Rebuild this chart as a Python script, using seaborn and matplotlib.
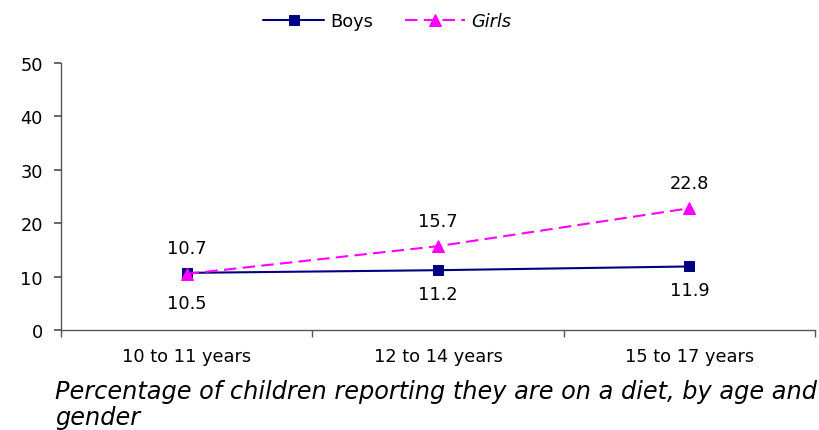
import matplotlib
matplotlib.use("Agg")
import matplotlib.pyplot as plt
import seaborn as sns
import pandas as pd

categories = ["10 to 11 years", "12 to 14 years", "15 to 17 years"]
boys = [10.7, 11.2, 11.9]
girls = [10.5, 15.7, 22.8]
yticks = [0, 10, 20, 30, 40, 50]
caption = "Percentage of children reporting they are on a diet, by age and\ngender"

sns.set_theme(style="white")
plt.rcParams['font.family'] = ['DejaVu Sans']
plt.rcParams['text.color'] = 'black'

df = pd.DataFrame({
    "pos": list(range(3)) * 2,
    "value": boys + girls,
    "series": ["Boys"] * 3 + ["Girls"] * 3,
})

fig = plt.figure(figsize=(8.2, 4.31), dpi=100)
ax = fig.add_axes([0.0744, 0.232, 0.9196, 0.6195])

sns.lineplot(data=df[df.series == "Boys"], x="pos", y="value", ax=ax, color="#000080",
             marker="s", markersize=7.5, linewidth=1.5, label="Boys", markeredgecolor="#000080")
sns.lineplot(data=df[df.series == "Girls"], x="pos", y="value", ax=ax, color="#FF00FF",
             marker="^", markersize=8, linewidth=1.5, label="Girls",
             markeredgecolor="#FF00FF")
ax.lines[-1].set_linestyle((0, (6, 3)))

ax.set_xlim(-0.5, 2.5)
ax.set_ylim(0, 50)
ax.set_yticks(yticks)
ax.set_xticks(range(3))
ax.set_xticklabels(categories)
ax.set_xticks([-0.5, 0.5, 1.5, 2.5], minor=True)
fs = 12.8
ax.tick_params(axis="x", which="major", length=0, pad=12, labelsize=fs, labelcolor="black")
ax.tick_params(axis="x", which="minor", length=5, direction="out", color="#555555", bottom=True)
ax.tick_params(axis="y", length=5, direction="out", color="#555555", left=True, labelsize=fs,
               pad=8, labelcolor="black")
ax.set_xlabel("")
ax.set_ylabel("")
for s in ["top", "right"]:
    ax.spines[s].set_visible(False)
for s in ["left", "bottom"]:
    ax.spines[s].set_color("#555555")
    ax.spines[s].set_linewidth(1)

for i, (b, g) in enumerate(zip(boys, girls)):
    if b >= g:
        ax.annotate(f"{b}", (i, b), xytext=(0, 25), textcoords="offset pixels", ha="center", va="center", fontsize=fs)
        ax.annotate(f"{g}", (i, g), xytext=(0, -29), textcoords="offset pixels", ha="center", va="center", fontsize=fs)
    else:
        ax.annotate(f"{g}", (i, g), xytext=(0, 25), textcoords="offset pixels", ha="center", va="center", fontsize=fs)
        ax.annotate(f"{b}", (i, b), xytext=(0, -24), textcoords="offset pixels", ha="center", va="center", fontsize=fs)

leg = ax.legend(loc="center", bbox_to_anchor=(0.433, 1.157), ncol=2, frameon=False,
                fontsize=fs, handlelength=3.4, columnspacing=1.8, handletextpad=0.35)
for t in leg.get_texts():
    t.set_color("black")
    if t.get_text() == "Girls":
        t.set_fontstyle("italic")

fig.text(0.067, 0.003, caption, ha="left", va="bottom", fontsize=17.3, fontstyle="italic",
         linespacing=1.1, color="black")

fig.savefig("out.png", dpi=100)
